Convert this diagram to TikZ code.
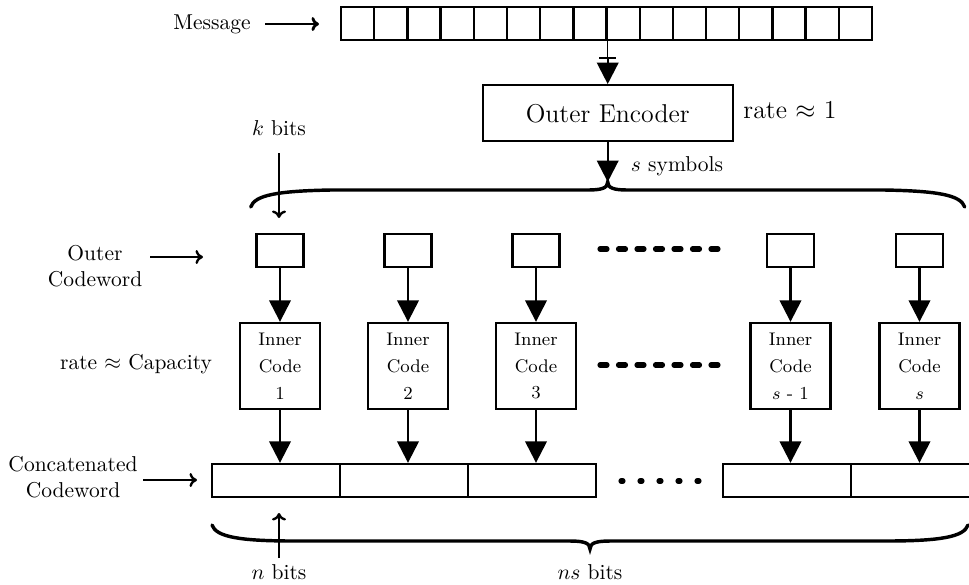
\documentclass[tikz,border=0pt]{standalone}
\usetikzlibrary{arrows.meta}
\begin{document}
\begin{tikzpicture}[x=0.4651pt,y=-0.4651pt,
  box/.style={draw, line width=1.1pt, inner sep=0pt},
  cell/.style={box, minimum width=15.44pt, minimum height=15.35pt},
  sbox/.style={box, minimum width=21.9pt, minimum height=15.35pt},
  ibox/.style={box, minimum width=37.2pt, minimum height=40pt, align=center, font=\fontsize{8.5}{12.5}\selectfont},
  ccell/.style={box, minimum width=59.5pt, minimum height=15.35pt},
  bigarrow/.style={line width=1.1pt, -{Triangle[length=10pt,width=10pt]}},
  thinarrow/.style={line width=1.1pt, -{To[length=3.5pt,width=6.5pt]}},
  bracestyle/.style={line width=1.6pt, line cap=round},
  dotline/.style={line width=2.4pt, line cap=round},
  lbl/.style={align=center, inner sep=0pt},
]
\useasboundingbox (0,0) rectangle (969,584);
\clip (0,0) rectangle (969,584);

% ---- message ----
\node[lbl] (msg) at (212,24) {Message};
\foreach \i in {1,...,16} \node[cell] (m\i) at ({341+33.19*(\i-0.5)},23.5) {};
\coordinate (msgA) at (265,24);
\draw[thinarrow, line width=1.3pt] (msgA) -- ++(54,0);

% ---- outer encoder ----
\path (m8.south east) ++(0,72) node[box, minimum width=116.3pt, minimum height=26pt, font=\large] (enc) {Outer Encoder};
\node[lbl, font=\large] (r1) at (790,110) {rate $\approx$ 1};
\coordinate (y58) at (0,58);
\coordinate (bar) at (m8.south east |- y58);
\draw[line width=0.6pt] (m8.south east) -- (bar);
\draw[line width=0.6pt] ([xshift=-4pt]bar) -- ([xshift=4pt]bar);
\draw[bigarrow] (bar) -- (enc.north);

\coordinate (y182) at (0,182);
\coordinate (btip) at (enc.south |- y182);
\draw[bigarrow] (enc.south) -- (btip);
\node[lbl] (ssym) at (677,166) {$s$ symbols};

% top brace
\begin{scope}[shift={(btip)}]
\draw[bracestyle] (-357,25) .. controls (-353,13) and (-330,9) .. (-277,8) -- (-20,8)
  .. controls (-6,8) and (0,6) .. (0,0) .. controls (0,6) and (6,8) .. (20,8) -- (277,8)
  .. controls (330,9) and (353,13) .. (357,25);
\end{scope}

% k bits
\node[lbl] (kb) at (279,128) {$k$ bits};
\coordinate (kA) at (279,153);
\draw[thinarrow] (kA) -- ++(0,65);

% ---- outer codeword symbols & inner codes ----
\node[lbl] (oc) at (95,266) {Outer\\Codeword};
\coordinate (ocA) at (150,257);
\draw[thinarrow] (ocA) -- ++(53,0);
\node[lbl] (rc) at (136,364) {rate $\approx$ Capacity};

\foreach \x/\t [count=\i] in {280/1, 408/2, 536/3, 790.5/{$s$ - 1}, 919.5/{$s$}} {
  \node[sbox] (sb\i) at (\x,250.5) {};
  \node[ibox] (ib\i) at (\x,366) {Inner\\Code\\\t};
  \draw[bigarrow] (sb\i.south) -- (ib\i.north);
}

% dots
\foreach \i in {0,...,6} {
  \draw[dotline] ({600+18.5*\i},249) -- ++(7,0);
  \draw[dotline] ({600+18.5*\i},365) -- ++(7,0);
}

% ---- concatenated codeword ----
\node[lbl] (cc) at (73,477.5) {Concatenated\\Codeword};
\coordinate (ccA) at (143,480);
\draw[thinarrow] (ccA) -- ++(54,0);
\foreach \x [count=\i] in {276, 404, 532, 787, 915} \node[ccell] (cat\i) at (\x,480.5) {};
\foreach \i in {0,...,4} \draw[dotline] ({621+19*\i},481) -- ++(2,0);

\foreach \i in {1,...,5} \draw[bigarrow] (ib\i.south) -- (ib\i.south |- cat1.north);

% bottom brace
\coordinate (btip2) at (590,549);
\begin{scope}[shift={(btip2)}]
\draw[bracestyle] (-378,-24) .. controls (-374,-12) and (-350,-8) .. (-295,-8) -- (-20,-8)
  .. controls (-6,-8) and (0,-6) .. (0,0) .. controls (0,-6) and (6,-8) .. (20,-8) -- (295,-8)
  .. controls (350,-8) and (374,-12) .. (378,-24);
\end{scope}

\node[lbl] (nb) at (279,572) {$n$ bits};
\coordinate (nA) at (279,558);
\draw[thinarrow] (nA) -- ++(0,-45);
\node[lbl] (nsb) at (590,572) {$ns$ bits};
\end{tikzpicture}
\end{document}
